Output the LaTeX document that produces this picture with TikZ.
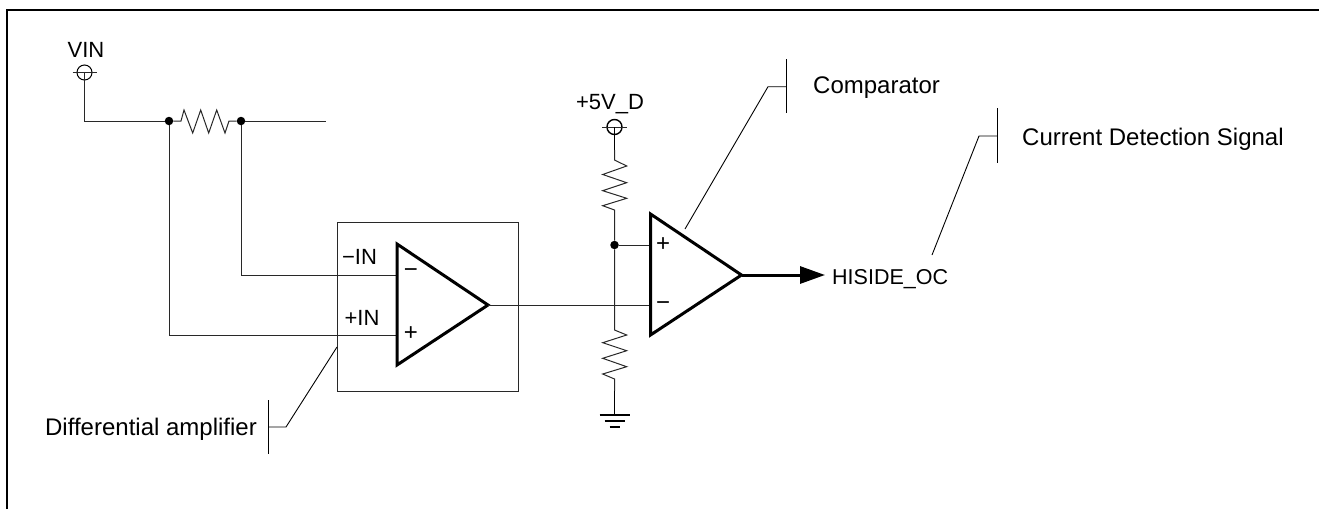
\documentclass[tikz,border=0pt]{standalone}
\usepackage{fontspec}
\setmainfont{Liberation Sans}
\usepackage{xcolor}
\usetikzlibrary{arrows.meta, positioning, calc}
\definecolor{wireC}{RGB}{40, 40, 40}

\begin{document}
\begin{tikzpicture}[
    x=1pt, y=-1pt,
    wire/.style={draw=wireC, line width=1pt},
    leader/.style={draw=black, line width=0.9pt},
    opamp/.style={draw=black, line width=3pt, line join=miter, fill=white},
    junction/.style={circle, fill=black, inner sep=0pt, minimum size=8.5pt},
    terminal/.style={circle, draw=black, line width=1pt, inner sep=0pt, minimum size=15pt},
    label/.style={font=\fontsize{24}{26}\selectfont, inner sep=0pt},
    sign/.style={font=\fontsize{24}{26}\selectfont, inner sep=0pt}
]
    \useasboundingbox (0,0) rectangle (1319,509);
    \coordinate (frameA) at (7,509);
    \coordinate (frameB) at (7,10);
    \coordinate (frameC) at (1319,10);
    \draw[line width=2.4pt, line join=miter] (frameA) -- (frameB) -- (frameC);

    % sense resistor
    \node[terminal] (vin) at (84.5,72.5) {};
    \node[label, font=\fontsize{22}{26}\selectfont] (vinlabel) at (86,50) {VIN};
    \node[junction] (senseL) at (169,121) {};
    \node[junction] (senseR) at (241,121) {};
    \coordinate (senseEnd) at (325.5,121);
    \draw[wire] ($(vin.west)+(-4,0)$) -- ($(vin.east)+(4,0)$);
    \draw[wire] (vin.center) |- (senseL);
    \draw[wire] (senseL) -- (181,121) -- (184,110) -- (192.7,133) -- (200.7,110) -- (208.7,133) -- (216.7,110) -- (225,133) -- (229,121) -- (senseR);
    \draw[wire] (senseR) -- (senseEnd);

    % differential amplifier
    \node[draw=wireC, line width=1pt, minimum width=181pt, minimum height=169pt, inner sep=0pt] (ampbox) at (427.5,306.5) {};
    \coordinate (ampM) at (397,275);
    \coordinate (ampP) at (397,335);
    \coordinate (ampT) at (488,305);
    \draw[wire] (senseR) |- (ampM);
    \draw[wire] (senseL) |- (ampP);
    \draw[opamp] (397,244) -- (ampT) -- (397,365) -- cycle;
    \node[sign] (ampMsign) at (411,273.5) {−};
    \node[sign] (ampPsign) at (411,334) {+};
    \node[label, font=\fontsize{22}{26}\selectfont] (minusin) at (359.5,257) {−IN};
    \node[label, font=\fontsize{22}{26}\selectfont] (plusin) at (362,318) {+IN};

    % divider and comparator
    \node[terminal, line width=1.4pt] (vcc) at (614.5,127) {};
    \node[label, font=\fontsize{22}{26}\selectfont] (vcclabel) at (610,104) {+5V\_D};
    \coordinate (divTop) at (614.5,160);
    \coordinate (divTopEnd) at (614.5,210);
    \node[junction] (divMid) at (614.5,245) {};
    \coordinate (divBot) at (614.5,330);
    \coordinate (divBotEnd) at (614.5,379);
    \coordinate (gnd) at (614.5,415);
    \coordinate (cmpP) at (650.5,245);
    \coordinate (cmpM) at (650.5,305);
    \coordinate (cmpT) at (741.5,275);
    \coordinate (outEnd) at (825,275);
    \draw[wire] ($(vcc.west)+(-4,0)$) -- ($(vcc.east)+(4,0)$);
    \draw[line width=1.6pt] (vcc.center) -- (614.5,150);
    \draw[wire] (614.5,150) -- (divTop) -- (626.7,166) -- (602.7,174.5) -- (626.7,182.7) -- (602.7,190.7) -- (626.7,198.3) -- (602.7,205.7) -- (divTopEnd) -- (divMid);
    \draw[wire] (divMid) -- (divBot) -- (626.7,335) -- (602.7,342.7) -- (626.7,350.7) -- (602.7,358.3) -- (626.7,366.7) -- (602.7,374) -- (divBotEnd) -- (614.5,391);
    \draw[line width=1.6pt] (614.5,391) -- (gnd);
    \draw[line width=1.6pt] ($(gnd)+(-15,0)$) -- ($(gnd)+(15,0)$);
    \draw[line width=1.6pt] ($(gnd)+(-10,6)$) -- ($(gnd)+(10,6)$);
    \draw[line width=1.6pt] ($(gnd)+(-5,12)$) -- ($(gnd)+(5,12)$);
    \draw[wire] (divMid) -- (cmpP);
    \draw[wire] (ampT) -- (cmpM);
    \draw[opamp] (650.5,214) -- (cmpT) -- (650.5,335) -- cycle;
    \node[sign] (cmpPsign) at (663,245) {+};
    \node[sign] (cmpMsign) at (663,306.5) {−};
    \node[label, font=\fontsize{21.5}{26}\selectfont, anchor=west] (hiside) at (832,279) {HISIDE\_OC};
    \draw[line width=3pt, -{Triangle[length=25pt, width=17pt]}] (cmpT) -- (outEnd);

    % callouts
    \node[label, anchor=east] (difflabel) at (257,429) {Differential amplifier};
    \coordinate (diffTickA) at (268,400);
    \coordinate (diffTickB) at (268,454);
    \coordinate (diffKnee) at (286,427);
    \coordinate (diffEnd) at (337,347);
    \draw[leader] (diffTickA) -- (diffTickB);
    \draw[leader] (268,427) -- (diffKnee) -- (diffEnd);

    \node[label, anchor=west] (cmplabel) at (813,88) {Comparator};
    \coordinate (cmpTickA) at (786,59);
    \coordinate (cmpTickB) at (786,113);
    \coordinate (cmpKnee) at (768,86.7);
    \coordinate (cmpEnd) at (685,229);
    \draw[leader] (cmpTickA) -- (cmpTickB);
    \draw[leader] (786,86.7) -- (cmpKnee) -- (cmpEnd);

    \node[label, anchor=west] (siglabel) at (1022,139) {Current Detection Signal};
    \coordinate (sigTickA) at (997.7,108);
    \coordinate (sigTickB) at (997.7,163);
    \coordinate (sigKnee) at (979,136);
    \coordinate (sigEnd) at (932,255);
    \draw[leader] (sigTickA) -- (sigTickB);
    \draw[leader] (997.7,136) -- (sigKnee) -- (sigEnd);
\end{tikzpicture}
\end{document}
